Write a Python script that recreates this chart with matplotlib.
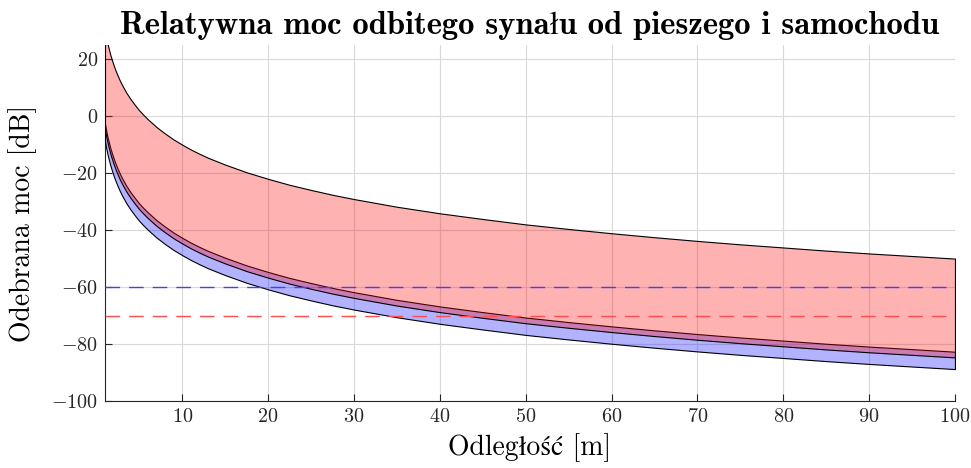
import numpy as np
import matplotlib
matplotlib.use('Agg')
import matplotlib.pyplot as plt

plt.rcParams['font.family'] = ['cmr10', 'STIXGeneral', 'DejaVu Serif']
plt.rcParams['mathtext.fontset'] = 'cm'
plt.rcParams['axes.formatter.use_mathtext'] = True

# odleglosc [m]
odleglosc = [1, 1.1, 1.2, 1.3, 1.4, 1.5, 1.6, 1.8, 2, 2.25,
             2.5, 2.75, 3, 3.5, 4, 4.5, 5, 5.5, 6, 7,
             8, 9, 10, 11, 12, 13, 14, 15, 17.5, 20,
             22.5, 25, 27.5, 30, 35, 40, 45, 50, 55, 60,
             65, 70, 75, 80, 85, 90, 95, 100]

# samochod (czerwony) - gorna i dolna granica [dB]
samochod_max = [30, 28.3, 26.8, 25.4, 24.2, 23.0, 21.8, 19.8, 18.0, 15.9,
                14.1, 12.4, 10.9, 8.2, 5.9, 3.9, 2.0, 0.4, -1.1, -3.8,
                -6.1, -8.2, -10.0, -11.7, -13.2, -14.6, -15.8, -17.0, -19.7, -22.0,
                -24.1, -25.9, -27.6, -29.1, -31.8, -34.1, -36.1, -38.0, -39.6, -41.1,
                -42.5, -43.8, -45.0, -46.1, -47.2, -48.2, -49.1, -50.0]
samochod_min = [-4.7, -6.4, -7.9, -9.3, -10.5, -11.7, -12.9, -14.9, -16.7, -18.8,
                -20.6, -22.3, -23.8, -26.5, -28.8, -30.8, -32.7, -34.3, -35.8, -38.5,
                -40.8, -42.9, -44.7, -46.4, -47.9, -49.3, -50.5, -51.7, -54.4, -56.7,
                -58.8, -60.6, -62.3, -63.8, -66.5, -68.8, -70.8, -72.7, -74.3, -75.8,
                -77.2, -78.5, -79.7, -80.8, -81.9, -82.9, -83.8, -84.7]

# pieszy (niebieski)
pieszy_max = [-2.7, -4.4, -5.9, -7.3, -8.5, -9.7, -10.9, -12.9, -14.7, -16.8,
              -18.6, -20.3, -21.8, -24.5, -26.8, -28.8, -30.7, -32.3, -33.8, -36.5,
              -38.8, -40.9, -42.7, -44.4, -45.9, -47.3, -48.5, -49.7, -52.4, -54.7,
              -56.8, -58.6, -60.3, -61.8, -64.5, -66.8, -68.8, -70.7, -72.3, -73.8,
              -75.2, -76.5, -77.7, -78.8, -79.9, -80.9, -81.8, -82.7]
pieszy_min = [-8.8, -10.5, -12.0, -13.4, -14.6, -15.8, -17.0, -19.0, -20.8, -22.9,
              -24.7, -26.4, -27.9, -30.6, -32.9, -34.9, -36.8, -38.4, -39.9, -42.6,
              -44.9, -47.0, -48.8, -50.5, -52.0, -53.4, -54.6, -55.8, -58.5, -60.8,
              -62.9, -64.7, -66.4, -67.9, -70.6, -72.9, -74.9, -76.8, -78.4, -79.9,
              -81.3, -82.6, -83.8, -84.9, -86.0, -87.0, -87.9, -88.8]

prog_pieszy = -60
prog_samochod = -70

fig = plt.figure(figsize=(9.71, 4.68), dpi=100)
ax = fig.add_axes([0.1081, 0.1432, 0.8754, 0.7607])

ax.fill_between(odleglosc, pieszy_min, pieszy_max, facecolor=(0, 0, 1, 0.3),
                edgecolor='black', linewidth=0.8, zorder=3)
ax.fill_between(odleglosc, samochod_min, samochod_max, facecolor=(1, 0, 0, 0.3),
                edgecolor='black', linewidth=0.8, zorder=3)

ax.axhline(prog_pieszy, color=(0.25, 0.25, 1), linewidth=1, dashes=(10.5, 6.5), zorder=4)
ax.axhline(prog_samochod, color=(1, 0.3, 0.3), linewidth=1, dashes=(10.5, 6.5), zorder=4)

ax.set_xlim(1, 100)
ax.set_ylim(-100, 25)
ax.set_xticks(np.arange(10, 101, 10))
ax.set_yticks(np.arange(-100, 21, 20))
ax.grid(True, color='0.85', linewidth=0.8)
ax.set_axisbelow(True)
ax.tick_params(direction='in', labelsize=14.5, length=5, colors='0.15', pad=5)
for s in ['top', 'right']:
    ax.spines[s].set_visible(False)
for s in ['left', 'bottom']:
    ax.spines[s].set_color('0.15')

ax.set_xlabel('Odległość [m]', fontsize=20, labelpad=5)
ax.set_ylabel('Odebrana moc [dB]', fontsize=20, labelpad=10)
ax.set_title('Relatywna moc odbitego synału od pieszego i samochodu',
             fontsize=23.5, family=['cmb10', 'STIXGeneral', 'DejaVu Serif'], pad=8)

fig.savefig('out.png', dpi=100)
